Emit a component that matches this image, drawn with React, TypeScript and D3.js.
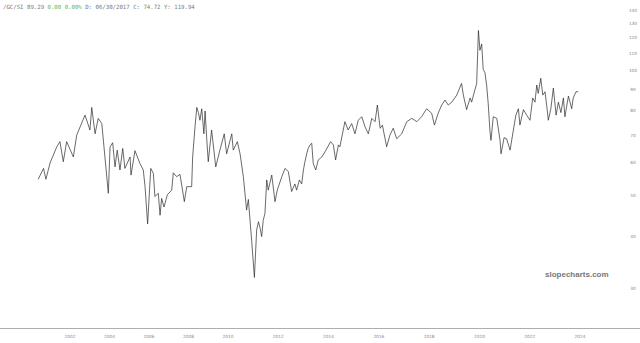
import React from "react";
import * as d3 from "d3";

const years: number[] = [
  2000.39, 2000.66, 2000.78, 2000.99, 2001.33, 2001.49, 2001.66, 2001.83, 2002.17, 2002.34,
  2002.76, 2003.01, 2003.10, 2003.27, 2003.43, 2003.61, 2003.72, 2003.94, 2004.03, 2004.16,
  2004.28, 2004.39, 2004.53, 2004.67, 2004.78, 2005.04, 2005.09, 2005.29, 2005.54, 2005.71,
  2005.80, 2005.93, 2006.09, 2006.22, 2006.30, 2006.47, 2006.56, 2006.64, 2006.76, 2006.93,
  2007.15, 2007.23, 2007.40, 2007.57, 2007.79, 2007.91, 2008.16, 2008.21, 2008.33, 2008.42,
  2008.50, 2008.58, 2008.67, 2008.78, 2008.84, 2008.92, 2009.00, 2009.17, 2009.38, 2009.59,
  2009.81, 2009.93, 2010.15, 2010.21, 2010.37, 2010.48, 2010.61, 2010.74, 2010.81, 2010.94,
  2011.05, 2011.14, 2011.21, 2011.27, 2011.34, 2011.40, 2011.47, 2011.54, 2011.60, 2011.74,
  2011.87, 2011.96, 2012.14, 2012.27, 2012.40, 2012.53, 2012.66, 2012.73, 2012.84, 2012.93,
  2013.00, 2013.06, 2013.13, 2013.19, 2013.26, 2013.33, 2013.39, 2013.49, 2013.59, 2013.73,
  2013.86, 2014.08, 2014.19, 2014.28, 2014.39, 2014.45, 2014.65, 2014.78, 2014.92, 2015.05,
  2015.18, 2015.32, 2015.45, 2015.58, 2015.72, 2015.85, 2015.94, 2016.05, 2016.14, 2016.31,
  2016.44, 2016.57, 2016.71, 2016.91, 2017.11, 2017.31, 2017.51, 2017.70, 2017.90, 2018.10,
  2018.21, 2018.36, 2018.50, 2018.63, 2018.76, 2018.90, 2019.10, 2019.29, 2019.36, 2019.49,
  2019.63, 2019.69, 2019.82, 2019.89, 2019.96, 2020.02, 2020.09, 2020.15, 2020.22, 2020.29,
  2020.35, 2020.42, 2020.46, 2020.55, 2020.69, 2020.82, 2020.86, 2020.98, 2021.08, 2021.22,
  2021.35, 2021.45, 2021.55, 2021.61, 2021.75, 2021.88, 2022.01, 2022.12, 2022.21, 2022.28,
  2022.34, 2022.44, 2022.52, 2022.61, 2022.68, 2022.74, 2022.84, 2022.94, 2023.05, 2023.14,
  2023.24, 2023.34, 2023.40, 2023.54, 2023.67, 2023.73, 2023.84, 2023.93,
];

const ratio: number[] = [
  54.8, 58.2, 54.8, 60.0, 65.6, 67.5, 60.4, 67.5, 62.0, 70.0,
  78.2, 72.0, 81.6, 70.5, 76.8, 74.6, 65.6, 50.7, 65.6, 67.1,
  58.7, 64.4, 57.7, 65.0, 58.2, 62.0, 56.1, 64.2, 59.8, 57.7,
  52.6, 42.8, 58.2, 56.6, 49.8, 50.7, 44.9, 49.3, 47.0, 50.3,
  51.6, 56.8, 55.6, 56.3, 48.4, 52.6, 52.6, 62.0, 73.3, 81.6,
  79.3, 76.0, 81.0, 70.5, 80.0, 69.0, 60.4, 72.0, 58.7, 64.4,
  70.5, 63.1, 70.5, 64.4, 67.5, 63.1, 55.6, 46.2, 49.0, 39.1,
  31.8, 41.4, 43.3, 42.0, 39.9, 43.6, 45.4, 54.6, 51.6, 56.1,
  48.4, 51.6, 55.6, 58.2, 57.2, 51.2, 53.4, 51.6, 54.6, 53.4,
  57.7, 60.4, 63.1, 65.0, 66.3, 66.9, 59.8, 57.7, 61.0, 62.0,
  63.8, 67.5, 66.3, 61.0, 66.3, 65.6, 75.4, 72.0, 74.6, 70.5,
  76.0, 77.5, 73.3, 70.5, 76.8, 75.4, 82.7, 72.7, 74.0, 65.6,
  70.0, 72.7, 68.6, 70.5, 75.4, 76.8, 75.4, 77.5, 81.0, 79.0,
  74.0, 79.0, 82.7, 85.0, 82.7, 84.0, 87.4, 93.2, 87.4, 80.6,
  86.0, 84.0, 89.9, 93.2, 125.0, 112.0, 116.0, 100.7, 98.9, 91.8,
  83.3, 71.3, 68.0, 77.5, 76.8, 68.0, 63.1, 69.0, 68.6, 64.4,
  72.0, 78.2, 81.0, 74.0, 80.6, 78.2, 76.0, 86.0, 84.0, 92.4,
  88.2, 95.9, 87.4, 89.0, 82.0, 76.0, 81.0, 90.8, 78.2, 84.0,
  79.3, 86.0, 77.5, 86.9, 81.0, 86.0, 89.0, 89.0,
];

const xTicks: number[] = [2002, 2004, 2006, 2008, 2010, 2012, 2014, 2016, 2018, 2020, 2022, 2024];
const yTicks: number[] = [140, 130, 120, 110, 100, 90, 80, 70, 60, 50, 40, 30];

const W = 640;
const H = 343;

export default function App() {
  const x = d3.scaleLinear().domain([2002, 2010, 2024]).range([70, 228, 580]);
  const y = d3.scaleLog().domain([30, 140]).range([288, 10]);
  const pts = years.map((yr, i) => [yr, ratio[i]] as [number, number]);
  const line = d3
    .line<[number, number]>()
    .x((d) => x(d[0]))
    .y((d) => y(d[1]));

  return (
    <svg
      width={W}
      height={H}
      style={{ position: "absolute", left: 0, top: 0, background: "#fff" }}
    >
      <rect x={0} y={0} width={W} height={H} fill="#fff" />
      <text
        x={3}
        y={9}
        fontFamily="DejaVu Sans Mono, monospace"
        fontSize={5.7}
        fill="#777"
      >
        <tspan>/GC/SI 89.29 </tspan>
        <tspan fill="#5cb85c">0.00 0.00%</tspan>
        <tspan> D: 06/30/2017 C: 74.72 Y: 119.94</tspan>
      </text>
      {yTicks.map((t) => (
        <text
          key={t}
          x={633}
          y={y(t)}
          dy="0.35em"
          textAnchor="middle"
          fontFamily="DejaVu Sans, sans-serif"
          fontSize={4.3}
          fill="#888"
        >
          {t}
        </text>
      ))}
      <line x1={0} x2={W} y1={328.5} y2={328.5} stroke="#999" strokeWidth={0.8} />
      {xTicks.map((t) => (
        <text
          key={t}
          x={x(t)}
          y={336}
          dy="0.35em"
          textAnchor="middle"
          fontFamily="DejaVu Sans, sans-serif"
          fontSize={4.3}
          fill="#888"
        >
          {t}
        </text>
      ))}
      <path d={line(pts) || ""} fill="none" stroke="#2a2a2a" strokeWidth={0.7} strokeLinejoin="round" />
      <text
        x={545}
        y={277}
        fontFamily="Liberation Sans, Arial, sans-serif"
        fontWeight="bold"
        fontSize={8}
        fill="#777"
      >
        slopecharts.com
      </text>
    </svg>
  );
}
